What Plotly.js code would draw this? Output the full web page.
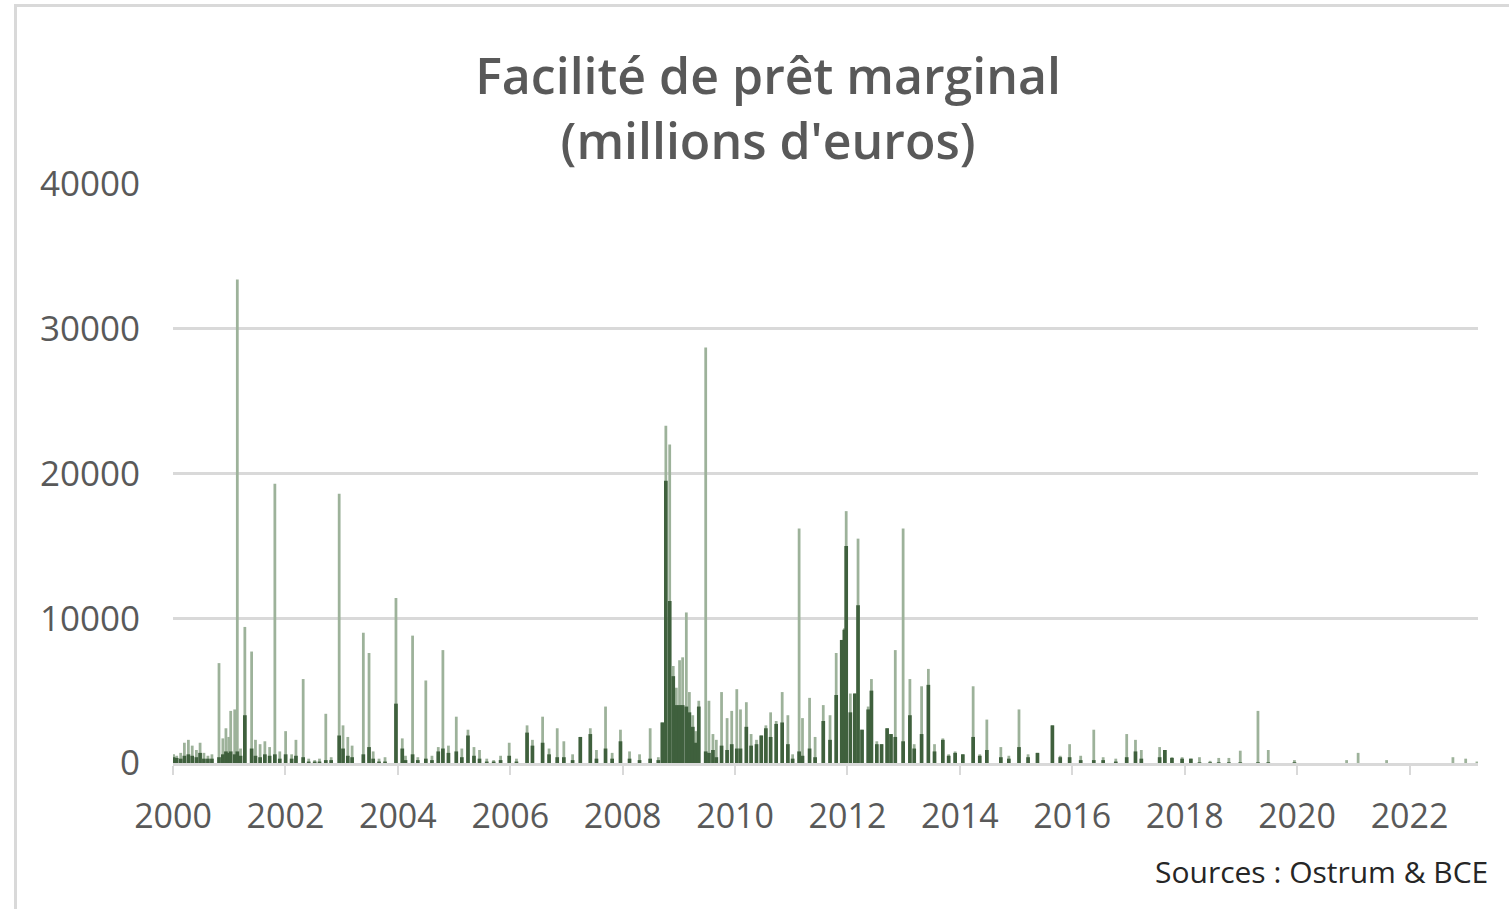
<!DOCTYPE html>
<html>
<head>
<meta charset="utf-8">
<script src="https://cdn.plot.ly/plotly-3.0.1.min.js"></script>
<style>
  body { margin: 0; background: #fff; }
  #frame { position: absolute; left: 14px; top: 4px; width: 1500px; height: 920px;
           border-left: 3px solid #d9d9d9; border-top: 3px solid #d9d9d9; pointer-events: none; }
</style>
</head>
<body>
<div id="chart" style="width:1509px;height:909px;"></div>
<div id="frame"></div>
<script>
// Facilité de prêt marginal, en millions d'euros
var dates = [
  '2000-01-05','2000-01-25','2000-02-20','2000-03-15','2000-04-10','2000-05-05','2000-06-01','2000-06-25',
  '2000-07-20','2000-08-15','2000-09-10','2000-10-26','2000-11-20','2000-12-10','2000-12-28',
  '2001-01-10','2001-02-05','2001-02-22','2001-03-15','2001-04-12','2001-05-26','2001-06-20','2001-07-20',
  '2001-08-20','2001-09-20','2001-10-24','2001-11-25','2002-01-02','2002-02-10','2002-03-10','2002-04-26',
  '2002-06-01','2002-07-10','2002-08-10','2002-09-20','2002-10-25','2002-12-16','2003-01-10','2003-02-10',
  '2003-03-10','2003-05-22','2003-06-28','2003-07-25','2003-09-01','2003-10-10','2003-12-20','2004-01-30',
  '2004-02-20','2004-04-06','2004-05-10','2004-07-01','2004-08-10','2004-09-20','2004-10-20','2004-11-25',
  '2005-01-15','2005-02-20','2005-04-01','2005-05-10','2005-06-15','2005-08-01','2005-09-15','2005-10-30',
  '2005-12-25','2006-02-10','2006-04-20','2006-05-25','2006-07-30','2006-09-10','2006-11-02','2006-12-15',
  '2007-02-10','2007-04-01','2007-06-05','2007-07-15','2007-09-12','2007-10-25','2007-12-18','2008-02-15',
  '2008-04-20','2008-06-28','2008-08-20','2008-09-15','2008-10-08','2008-11-02','2008-11-25','2008-12-15',
  '2009-01-05','2009-01-25','2009-02-18','2009-03-10','2009-04-01','2009-04-20','2009-05-10','2009-06-24',
  '2009-07-15','2009-08-10','2009-09-01','2009-10-05','2009-11-10','2009-12-10','2010-01-12','2010-02-05',
  '2010-03-15','2010-04-15','2010-05-20','2010-06-20','2010-07-20','2010-08-20','2010-09-25','2010-11-03',
  '2010-12-10','2011-01-10','2011-02-21','2011-03-15','2011-04-30','2011-06-05','2011-07-28','2011-09-10',
  '2011-10-20','2011-11-25','2011-12-12','2011-12-24','2012-01-20','2012-02-18','2012-03-10','2012-04-05',
  '2012-05-15','2012-06-05','2012-07-10','2012-08-10','2012-09-15','2012-10-10','2012-11-07','2012-12-28',
  '2013-02-10','2013-03-10','2013-04-27','2013-06-10','2013-07-20','2013-09-12','2013-10-20','2013-12-01',
  '2014-01-20','2014-03-28','2014-05-10','2014-06-25','2014-09-24','2014-11-15','2015-01-20','2015-03-20',
  '2015-05-20','2015-08-25','2015-10-15','2015-12-15','2016-02-25','2016-05-20','2016-07-20','2016-10-10',
  '2016-12-20','2017-02-15','2017-03-25','2017-07-22','2017-08-25','2017-10-10','2017-12-15','2018-02-10',
  '2018-04-07','2018-06-15','2018-08-10','2018-10-15','2018-12-28','2019-04-22','2019-06-28','2019-12-15',
  '2020-11-18','2021-02-01','2021-08-05','2022-10-10','2023-01-01','2023-03-15'
];

// pics ponctuels (barres claires)
var peak = [
  600, 500, 700, 1400, 1600, 1200, 900, 1400,
  700, 500, 600, 6900, 1700, 2400, 1800,
  3600, 3700, 33400, 1000, 9400, 7700, 1600, 1300,
  1500, 1100, 19300, 800, 2200, 600, 1600, 5800,
  300, 200, 300, 3400, 400, 18600, 2600, 1800,
  1200, 9000, 7600, 800, 300, 400, 11400, 1700,
  500, 8800, 400, 5700, 500, 1100, 7800, 1200,
  3200, 1000, 2300, 1100, 900, 300, 200, 500,
  1400, 300, 2600, 1600, 3200, 1000, 2400, 1500,
  600, 1800, 2400, 900, 3900, 700, 2300, 800,
  600, 2400, 400, 2800, 23300, 22000, 6700, 5200,
  7100, 7300, 10400, 4900, 3300, 2200, 4300, 28700,
  4300, 2000, 1600, 4900, 3100, 3600, 5100, 3700,
  4200, 2000, 1600, 1900, 2600, 3500, 2900, 4900,
  3300, 600, 16200, 3100, 4500, 1800, 4000, 3300,
  7600, 8500, 9300, 17400, 4800, 4800, 15500, 2300,
  3900, 5800, 1500, 1300, 2400, 2000, 7800, 16200,
  5800, 1300, 5300, 6500, 1300, 1700, 600, 800,
  600, 5300, 600, 3000, 1100, 500, 3700, 600,
  700, 2600, 500, 1300, 500, 2300, 400, 300,
  2000, 1600, 900, 1100, 900, 400, 400, 300,
  400, 150, 350, 350, 850, 3600, 900, 200,
  200, 700, 200, 400, 300, 100
];

// niveau courant (barres foncées)
var level = [
  400, 350, 300, 500, 600, 500, 400, 700,
  300, 300, 300, 400, 600, 800, 700,
  800, 600, 800, 500, 3300, 1000, 500, 400,
  600, 500, 600, 300, 600, 300, 500, 400,
  100, 100, 100, 200, 200, 1900, 1000, 500,
  400, 600, 1100, 300, 100, 100, 4100, 1000,
  200, 600, 200, 300, 200, 800, 1000, 700,
  800, 400, 1900, 500, 300, 100, 100, 200,
  500, 100, 2100, 1200, 1400, 600, 400, 400,
  200, 1800, 2000, 300, 1000, 300, 1500, 300,
  200, 300, 200, 2800, 19500, 11200, 6000, 4000,
  4000, 4000, 3900, 3500, 2500, 1400, 3900, 800,
  700, 900, 400, 1200, 900, 1300, 1000, 1000,
  2500, 1200, 1300, 1900, 2400, 1800, 2700, 2800,
  1300, 300, 800, 500, 1000, 400, 2900, 1600,
  4700, 8500, 9200, 15000, 3500, 4800, 10900, 2300,
  3700, 5000, 1300, 1300, 2400, 2000, 1800, 1500,
  3300, 1000, 2000, 5400, 800, 1600, 500, 700,
  600, 1800, 500, 900, 400, 300, 1100, 400,
  700, 2600, 400, 400, 200, 200, 200, 100,
  400, 800, 300, 400, 900, 350, 300, 300,
  50, 50, 50, 50, 50, 50, 50, 50,
  0, 0, 0, 0, 0, 0
];

var yTicks = [0, 10000, 20000, 30000, 40000];

var dayMs = 86400000;

var tracePeak = {
  type: 'bar',
  x: dates,
  y: peak,
  width: 18 * dayMs,
  marker: { color: '#9db29a', line: { width: 0 } },
  hoverinfo: 'x+y'
};

var traceLevel = {
  type: 'bar',
  x: dates,
  y: level,
  width: 24 * dayMs,
  marker: { color: '#3f603d', line: { width: 0 } },
  hoverinfo: 'x+y'
};

var layout = {
  width: 1509,
  height: 909,
  paper_bgcolor: '#ffffff',
  plot_bgcolor: '#ffffff',
  showlegend: false,
  barmode: 'overlay',
  margin: { l: 173, r: 31, t: 184, b: 146 },
  font: { family: 'Open Sans, sans-serif', color: '#595959' },
  title: {
    text: 'Facilité de prêt marginal<br>(millions d\'euros)',
    font: { family: 'Open Sans, sans-serif', size: 50, color: '#595959', weight: 600 },
    xref: 'container', x: 0.509, xanchor: 'center',
    yref: 'container', y: 0.897, yanchor: 'middle'
  },
  xaxis: {
    type: 'date',
    range: ['2000-01-01', '2023-03-22'],
    tick0: '2000-01-01',
    dtick: 'M24',
    tickformat: '%Y',
    ticks: 'outside',
    ticklen: 9,
    tickwidth: 2,
    tickcolor: '#d9d9d9',
    showline: true,
    linecolor: '#d9d9d9',
    linewidth: 3,
    showgrid: false,
    zeroline: false,
    ticklabelstandoff: 12,
    tickfont: { size: 34, color: '#595959' }
  },
  yaxis: {
    range: [0, 40000],
    tickvals: yTicks,
    ticktext: yTicks.map(String),
    showgrid: true,
    gridcolor: '#d9d9d9',
    gridwidth: 3,
    zeroline: false,
    showline: false,
    ticks: '',
    ticklabelstandoff: 32,
    tickfont: { size: 35, color: '#595959' }
  },
  annotations: [{
    text: 'Sources : Ostrum & BCE',
    xref: 'paper', yref: 'paper',
    x: 1.009, y: -0.187,
    xanchor: 'right', yanchor: 'middle',
    showarrow: false,
    font: { size: 30, color: '#262626' }
  }]
};

Plotly.newPlot('chart', [tracePeak, traceLevel], layout, { displayModeBar: false, staticPlot: true });
</script>
</body>
</html>
